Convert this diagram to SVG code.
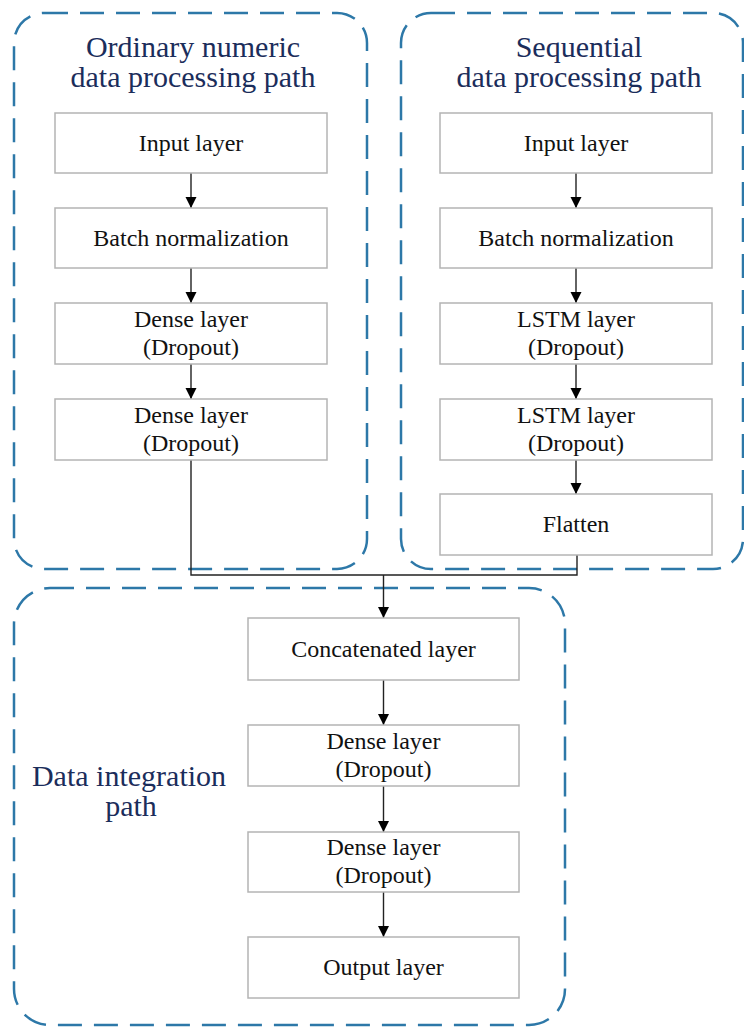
<svg xmlns="http://www.w3.org/2000/svg" width="744" height="1027" viewBox="0 0 744 1027">
  <defs>
    <marker id="arrow" viewBox="0 0 11 16" refX="11" refY="8" markerWidth="11" markerHeight="16" markerUnits="userSpaceOnUse" orient="auto">
      <path d="M0,2.5 L11,8 L0,13.5 Z" fill="#000"/>
    </marker>
    <style>
      .region { fill: none; stroke: #2d78a8; stroke-width: 2.5; stroke-dasharray: 24 12; }
      .title { font-family: "Liberation Serif", "Times New Roman", serif; font-size: 30px; fill: #1b2d5b; text-anchor: middle; }
      .box { fill: #fff; stroke: #b4b4b4; stroke-width: 1.5; }
      .label { font-family: "Liberation Serif", "Times New Roman", serif; font-size: 24px; fill: #111; text-anchor: middle; }
      .link { fill: none; stroke: #222; stroke-width: 1.4; }
    </style>
  </defs>

  <rect width="744" height="1027" fill="#fff"/>

  <!-- dashed path regions -->
  <g id="regions">
    <rect class="region" x="14" y="13" width="353" height="556" rx="30"/>
    <rect class="region" x="401" y="13" width="342" height="556" rx="30"/>
    <rect class="region" x="14" y="588" width="551" height="437" rx="36"/>
  </g>

  <!-- region titles -->
  <g id="title-ordinary">
    <text class="title" x="193" y="57">Ordinary numeric</text>
    <text class="title" x="193" y="87">data processing path</text>
  </g>
  <g id="title-sequential">
    <text class="title" x="579" y="57">Sequential</text>
    <text class="title" x="579" y="87">data processing path</text>
  </g>
  <g id="title-integration">
    <text class="title" x="129" y="786">Data integration</text>
    <text class="title" x="131" y="816">path</text>
  </g>

  <!-- connectors -->
  <g id="connectors">
    <line class="link" x1="191" y1="173" x2="191" y2="208" marker-end="url(#arrow)"/>
    <line class="link" x1="191" y1="268" x2="191" y2="303" marker-end="url(#arrow)"/>
    <line class="link" x1="191" y1="364" x2="191" y2="399" marker-end="url(#arrow)"/>
    <line class="link" x1="576" y1="173" x2="576" y2="208" marker-end="url(#arrow)"/>
    <line class="link" x1="576" y1="268" x2="576" y2="303" marker-end="url(#arrow)"/>
    <line class="link" x1="576" y1="364" x2="576" y2="399" marker-end="url(#arrow)"/>
    <line class="link" x1="576" y1="460" x2="576" y2="494" marker-end="url(#arrow)"/>
    <polyline class="link" points="191,460 191,575 577,575 577,555"/>
    <line class="link" x1="383.5" y1="575" x2="383.5" y2="618" marker-end="url(#arrow)"/>
    <line class="link" x1="383.5" y1="680" x2="383.5" y2="725" marker-end="url(#arrow)"/>
    <line class="link" x1="383.5" y1="786" x2="383.5" y2="832" marker-end="url(#arrow)"/>
    <line class="link" x1="383.5" y1="892" x2="383.5" y2="937" marker-end="url(#arrow)"/>
  </g>

  <!-- ordinary numeric path -->
  <g id="n-input">
    <rect class="box" x="55" y="113" width="272" height="60"/>
    <text class="label" x="191" y="151">Input layer</text>
  </g>
  <g id="n-batchnorm">
    <rect class="box" x="55" y="208" width="272" height="60"/>
    <text class="label" x="191" y="246">Batch normalization</text>
  </g>
  <g id="n-dense1">
    <rect class="box" x="55" y="303" width="272" height="61"/>
    <text class="label" x="191" y="327">Dense layer</text>
    <text class="label" x="191" y="355">(Dropout)</text>
  </g>
  <g id="n-dense2">
    <rect class="box" x="55" y="399" width="272" height="61"/>
    <text class="label" x="191" y="423">Dense layer</text>
    <text class="label" x="191" y="451">(Dropout)</text>
  </g>

  <!-- sequential path -->
  <g id="s-input">
    <rect class="box" x="440" y="113" width="272" height="60"/>
    <text class="label" x="576" y="151">Input layer</text>
  </g>
  <g id="s-batchnorm">
    <rect class="box" x="440" y="208" width="272" height="60"/>
    <text class="label" x="576" y="246">Batch normalization</text>
  </g>
  <g id="s-lstm1">
    <rect class="box" x="440" y="303" width="272" height="61"/>
    <text class="label" x="576" y="327">LSTM layer</text>
    <text class="label" x="576" y="355">(Dropout)</text>
  </g>
  <g id="s-lstm2">
    <rect class="box" x="440" y="399" width="272" height="61"/>
    <text class="label" x="576" y="423">LSTM layer</text>
    <text class="label" x="576" y="451">(Dropout)</text>
  </g>
  <g id="s-flatten">
    <rect class="box" x="440" y="494" width="272" height="61"/>
    <text class="label" x="576" y="532">Flatten</text>
  </g>

  <!-- integration path -->
  <g id="i-concat">
    <rect class="box" x="248" y="618" width="271" height="62"/>
    <text class="label" x="383.5" y="657">Concatenated layer</text>
  </g>
  <g id="i-dense1">
    <rect class="box" x="248" y="725" width="271" height="61"/>
    <text class="label" x="383.5" y="749">Dense layer</text>
    <text class="label" x="383.5" y="777">(Dropout)</text>
  </g>
  <g id="i-dense2">
    <rect class="box" x="248" y="832" width="271" height="60"/>
    <text class="label" x="383.5" y="855">Dense layer</text>
    <text class="label" x="383.5" y="883">(Dropout)</text>
  </g>
  <g id="i-output">
    <rect class="box" x="248" y="937" width="271" height="61"/>
    <text class="label" x="383.5" y="975">Output layer</text>
  </g>
</svg>
